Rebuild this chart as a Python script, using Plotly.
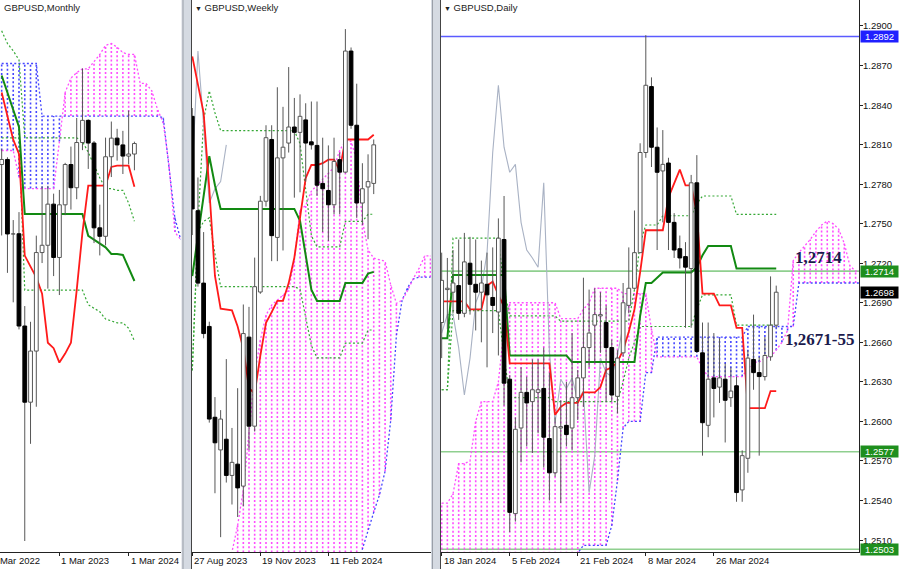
import plotly.graph_objects as go

# ======================= MONTHLY (May 2022 .. Apr 2024) =======================
m_open = [1.2574, 1.2604, 1.2164, 1.2165, 1.1620, 1.1170, 1.1472, 1.2054, 1.2097, 1.2340,
          1.2025, 1.2336, 1.2574, 1.2437, 1.2704, 1.2835, 1.2701, 1.2200, 1.2150, 1.2620,
          1.2730, 1.2690, 1.2624, 1.2636]
m_high = [1.2667, 1.2617, 1.2246, 1.2293, 1.1738, 1.1645, 1.2154, 1.2446, 1.2448, 1.2402,
          1.2424, 1.2584, 1.2680, 1.2849, 1.3142, 1.2841, 1.2713, 1.2337, 1.2733, 1.2828,
          1.2785, 1.2773, 1.2893, 1.2709]
m_low = [1.2155, 1.1934, 1.1760, 1.1600, 1.0350, 1.0924, 1.1143, 1.1992, 1.1841, 1.1915,
         1.1803, 1.2275, 1.2308, 1.2369, 1.2659, 1.2548, 1.2110, 1.2037, 1.2096, 1.2500,
         1.2597, 1.2518, 1.2575, 1.2540]
m_close = [1.2604, 1.2164, 1.2165, 1.1620, 1.1170, 1.1472, 1.2054, 1.2097, 1.2340, 1.2025,
           1.2336, 1.2574, 1.2437, 1.2704, 1.2835, 1.2701, 1.2200, 1.2150, 1.2620, 1.2730,
           1.2690, 1.2624, 1.2636, 1.2698]
m_tenkan = [1.3000, 1.2860, 1.2721, 1.2636, 1.2036, 1.1971, 1.1907, 1.1811, 1.1521, 1.1489,
            1.1404, 1.1457, 1.1521, 1.1832, 1.2175, 1.2449, 1.2449, 1.2449, 1.2449, 1.2560,
            1.2567, 1.2567, 1.2567, 1.2443]
m_kijun = [1.3100, 1.3000, 1.2900, 1.2796, 1.2282, 1.2282, 1.2282, 1.2282, 1.2282, 1.2282,
           1.2282, 1.2282, 1.2282, 1.2282, 1.2282, 1.2153, 1.2130, 1.2105, 1.2085, 1.2046,
           1.2046, 1.2040, 1.1960, 1.1886]
m_spanA = [1.3171, 1.3171, 1.3171, 1.3171, 1.3171, 1.3171, 1.3171, 1.2860, 1.2860, 1.2860,
           1.2860, 1.2860, 1.2860, 1.2860, 1.2860, 1.2860, 1.2860, 1.2860, 1.2860, 1.2860,
           1.2860, 1.2860, 1.2860, 1.2860, 1.2860, 1.2860, 1.2860, 1.2860, 1.2850, 1.2550,
           1.2261, 1.2132]
m_spanB = [1.2657, 1.2657, 1.2657, 1.2500, 1.2432, 1.2432, 1.2432, 1.2432, 1.2432, 1.2432,
           1.2710, 1.3000, 1.3085, 1.3117, 1.3139, 1.3139, 1.3182, 1.3224, 1.3278, 1.3289,
           1.3267, 1.3235, 1.3225, 1.3225, 1.3053, 1.3053, 1.3010, 1.2900, 1.2820, 1.2570,
           1.2175, 1.2132]
m_lvl_hi = [1.3364, 1.3289, 1.3246, 1.3192, 1.2732, 1.2732, 1.2732, 1.2732, 1.2732, 1.2732,
            1.2732, 1.2732, 1.2732, 1.2732, 1.2710, 1.2646, 1.2571, 1.2496, 1.2432, 1.2432,
            1.2421, 1.2421, 1.2346, 1.2239]
m_lvl_lo = [1.2732, 1.2732, 1.2732, 1.2732, 1.1832, 1.1832, 1.1832, 1.1832, 1.1832, 1.1832,
            1.1832, 1.1832, 1.1832, 1.1832, 1.1832, 1.1746, 1.1725, 1.1704, 1.1661, 1.1650,
            1.1639, 1.1639, 1.1607, 1.1532]
m_tick_idx = [-2, 10, 22]
m_tick_txt = ["1 Mar 2022", "1 Mar 2023", "1 Mar 2024"]

# ======================= WEEKLY (27 Aug 2023 .. Apr 2024) =======================
w_open = [1.2746, 1.2587, 1.2465, 1.2392, 1.2239, 1.2184, 1.2202, 1.2141, 1.2160, 1.2123,
          1.2374, 1.2224, 1.2450, 1.2603, 1.2707, 1.2542, 1.2676, 1.2701, 1.2728, 1.2719,
          1.2740, 1.2703, 1.2697, 1.2633, 1.2621, 1.2597, 1.2673, 1.2652, 1.2856, 1.2731,
          1.2600, 1.2627, 1.2633]
w_high = [1.2760, 1.2643, 1.2551, 1.2400, 1.2273, 1.2251, 1.2337, 1.2221, 1.2288, 1.2429,
          1.2425, 1.2508, 1.2612, 1.2731, 1.2731, 1.2795, 1.2762, 1.2829, 1.2777, 1.2783,
          1.2768, 1.2771, 1.2771, 1.2710, 1.2697, 1.2710, 1.2685, 1.2893, 1.2862, 1.2801,
          1.2667, 1.2682, 1.2707]
w_low = [1.2546, 1.2459, 1.2372, 1.2230, 1.2111, 1.2037, 1.2129, 1.2092, 1.2071, 1.2089,
         1.2184, 1.2215, 1.2447, 1.2594, 1.2502, 1.2502, 1.2520, 1.2685, 1.2609, 1.2618,
         1.2636, 1.2690, 1.2612, 1.2551, 1.2536, 1.2581, 1.2581, 1.2650, 1.2725, 1.2575,
         1.2563, 1.2539, 1.2615]
w_close = [1.2590, 1.2465, 1.2380, 1.2236, 1.2196, 1.2236, 1.2141, 1.2163, 1.2120, 1.2380,
           1.2224, 1.2459, 1.2603, 1.2710, 1.2545, 1.2676, 1.2694, 1.2728, 1.2719, 1.2746,
           1.2701, 1.2698, 1.2630, 1.2624, 1.2597, 1.2670, 1.2652, 1.2856, 1.2731, 1.2600,
           1.2624, 1.2636, 1.2698]
w_tenkan = [1.2847, 1.2798, 1.2752, 1.2624, 1.2477, 1.2422, 1.2421, 1.2419, 1.2392, 1.2355,
            1.2288, 1.2279, 1.2343, 1.2398, 1.2416, 1.2435, 1.2435, 1.2465, 1.2508, 1.2575,
            1.2642, 1.2664, 1.2664, 1.2667, 1.2673, 1.2673, 1.2655, 1.2707, 1.2707, 1.2707,
            1.2707, 1.2707, 1.2715]
w_kijun = [1.2477, 1.2545, 1.2612, 1.2679, 1.2630, 1.2590, 1.2590, 1.2590, 1.2590, 1.2590,
           1.2590, 1.2590, 1.2590, 1.2590, 1.2590, 1.2590, 1.2590, 1.2590, 1.2590, 1.2570,
           1.2515, 1.2454, 1.2435, 1.2435, 1.2435, 1.2435, 1.2435, 1.2465, 1.2465, 1.2465,
           1.2465, 1.2481, 1.2484]
w_spanA = [1.1990, 1.1990, 1.1990, 1.1990, 1.1990, 1.1990, 1.1990, 1.1990, 1.1990, 1.1990,
           1.1990, 1.1990, 1.1990, 1.1990, 1.1990, 1.1990, 1.1990, 1.1990, 1.1990, 1.1990,
           1.1990, 1.1990, 1.1990, 1.1990, 1.1990, 1.1990, 1.1990, 1.1990, 1.1990, 1.1990,
           1.2017, 1.2049, 1.2079, 1.2108, 1.2148, 1.2234, 1.2377, 1.2436, 1.2458, 1.2472,
           1.2475, 1.2475, 1.2475]
w_spanB = [1.1990, 1.1990, 1.1990, 1.1990, 1.1990, 1.1990, 1.1990, 1.2012, 1.2057, 1.2116,
           1.2217, 1.2310, 1.2369, 1.2411, 1.2428, 1.2436, 1.2445, 1.2453, 1.2504, 1.2588,
           1.2596, 1.2620, 1.2630, 1.2640, 1.2650, 1.2660, 1.2689, 1.2704, 1.2704, 1.2672,
           1.2571, 1.2521, 1.2507, 1.2505, 1.2502, 1.2462, 1.2431, 1.2436, 1.2453, 1.2473,
           1.2490, 1.2511, 1.2511]
w_lvl_hi = [1.2318, 1.2563, 1.2740, 1.2789, 1.2752, 1.2722, 1.2722, 1.2722, 1.2722, 1.2722,
            1.2722, 1.2722, 1.2722, 1.2722, 1.2722, 1.2722, 1.2722, 1.2722, 1.2722, 1.2700,
            1.2620, 1.2545, 1.2526, 1.2526, 1.2526, 1.2526, 1.2526, 1.2569, 1.2569, 1.2569,
            1.2569, 1.2581, 1.2581]
w_lvl_lo = [1.2318, 1.2551, 1.2569, 1.2575, 1.2514, 1.2459, 1.2459, 1.2459, 1.2459, 1.2459,
            1.2459, 1.2459, 1.2459, 1.2459, 1.2459, 1.2459, 1.2459, 1.2459, 1.2459, 1.2455,
            1.2410, 1.2360, 1.2339, 1.2339, 1.2339, 1.2339, 1.2339, 1.2364, 1.2364, 1.2364,
            1.2364, 1.2386, 1.2386]
w_tick_idx = [0, 12, 24]
w_tick_txt = ["27 Aug 2023", "19 Nov 2023", "11 Feb 2024"]

# ======================= DAILY (18 Jan 2024 .. Apr 2024) =======================
d_open = [1.2675, 1.2700, 1.2698, 1.2703, 1.2682, 1.2720, 1.2704, 1.2698, 1.2704, 1.2694,
          1.2683, 1.2738, 1.2632, 1.2530, 1.2595, 1.2622, 1.2615, 1.2622, 1.2625, 1.2587,
          1.2561, 1.2595, 1.2597, 1.2595, 1.2618, 1.2633, 1.2656, 1.2673, 1.2680, 1.2675,
          1.2656, 1.2619, 1.2652, 1.2688, 1.2701, 1.2728, 1.2804, 1.2854, 1.2808, 1.2790,
          1.2796, 1.2751, 1.2731, 1.2725, 1.2716, 1.2781, 1.2652, 1.2597, 1.2633, 1.2626,
          1.2632, 1.2618, 1.2627, 1.2548, 1.2572, 1.2647, 1.2637, 1.2634, 1.2649, 1.2673]
d_high = [1.2728, 1.2724, 1.2730, 1.2738, 1.2743, 1.2740, 1.2738, 1.2722, 1.2728, 1.2732,
          1.2754, 1.2771, 1.2635, 1.2603, 1.2641, 1.2634, 1.2647, 1.2647, 1.2656, 1.2637,
          1.2603, 1.2616, 1.2630, 1.2667, 1.2639, 1.2709, 1.2700, 1.2701, 1.2698, 1.2688,
          1.2662, 1.2654, 1.2705, 1.2732, 1.2760, 1.2811, 1.2893, 1.2861, 1.2823, 1.2821,
          1.2800, 1.2758, 1.2741, 1.2736, 1.2787, 1.2802, 1.2675, 1.2675, 1.2667, 1.2663,
          1.2644, 1.2641, 1.2634, 1.2578, 1.2654, 1.2681, 1.2649, 1.2664, 1.2710, 1.2703]
d_low = [1.2648, 1.2670, 1.2682, 1.2677, 1.2679, 1.2681, 1.2669, 1.2660, 1.2641, 1.2667,
         1.2650, 1.2612, 1.2516, 1.2524, 1.2569, 1.2581, 1.2576, 1.2591, 1.2565, 1.2540,
         1.2558, 1.2538, 1.2581, 1.2578, 1.2601, 1.2611, 1.2641, 1.2644, 1.2652, 1.2615,
         1.2615, 1.2606, 1.2649, 1.2682, 1.2700, 1.2728, 1.2800, 1.2793, 1.2730, 1.2751,
         1.2730, 1.2724, 1.2716, 1.2671, 1.2671, 1.2652, 1.2574, 1.2588, 1.2603, 1.2614,
         1.2584, 1.2611, 1.2539, 1.2539, 1.2561, 1.2624, 1.2574, 1.2631, 1.2646, 1.2671]
d_close = [1.2707, 1.2701, 1.2705, 1.2682, 1.2721, 1.2704, 1.2698, 1.2705, 1.2696, 1.2688,
           1.2739, 1.2629, 1.2531, 1.2594, 1.2622, 1.2614, 1.2624, 1.2624, 1.2588, 1.2561,
           1.2596, 1.2596, 1.2590, 1.2618, 1.2633, 1.2656, 1.2667, 1.2681, 1.2681, 1.2656,
           1.2620, 1.2648, 1.2690, 1.2701, 1.2728, 1.2804, 1.2855, 1.2808, 1.2789, 1.2795,
           1.2751, 1.2730, 1.2724, 1.2717, 1.2781, 1.2653, 1.2599, 1.2632, 1.2625, 1.2633,
           1.2616, 1.2623, 1.2546, 1.2574, 1.2648, 1.2637, 1.2634, 1.2650, 1.2673, 1.2698]
d_tenkan = [1.2691, 1.2691, 1.2691, 1.2691, 1.2691, 1.2685, 1.2685, 1.2685, 1.2703, 1.2706,
            1.2696, 1.2687, 1.2644, 1.2644, 1.2644, 1.2644, 1.2644, 1.2644, 1.2644, 1.2644,
            1.2605, 1.2611, 1.2614, 1.2614, 1.2614, 1.2622, 1.2622, 1.2622, 1.2626, 1.2639,
            1.2641, 1.2645, 1.2654, 1.2668, 1.2685, 1.2713, 1.2745, 1.2745, 1.2745, 1.2745,
            1.2770, 1.2781, 1.2791, 1.2779, 1.2779, 1.2758, 1.2697, 1.2697, 1.2697, 1.2688,
            1.2688, 1.2688, 1.2671, 1.2671, 1.2610, 1.2610, 1.2610, 1.2610, 1.2623, 1.2623]
d_kijun = [1.2663, 1.2663, 1.2711, 1.2711, 1.2711, 1.2711, 1.2711, 1.2711, 1.2711, 1.2711,
           1.2711, 1.2711, 1.2650, 1.2650, 1.2650, 1.2650, 1.2650, 1.2650, 1.2650, 1.2650,
           1.2650, 1.2650, 1.2650, 1.2645, 1.2645, 1.2645, 1.2645, 1.2645, 1.2645, 1.2645,
           1.2645, 1.2645, 1.2645, 1.2645, 1.2645, 1.2680, 1.2705, 1.2705, 1.2709, 1.2713,
           1.2713, 1.2713, 1.2713, 1.2713, 1.2713, 1.2717, 1.2726, 1.2733, 1.2733, 1.2733,
           1.2733, 1.2733, 1.2716, 1.2716, 1.2716, 1.2716, 1.2716, 1.2716, 1.2716, 1.2716]
d_spanA = [1.2490, 1.2490, 1.2490, 1.2490, 1.2490, 1.2490, 1.2490, 1.2490, 1.2490, 1.2490,
           1.2490, 1.2490, 1.2490, 1.2490, 1.2490, 1.2490, 1.2490, 1.2490, 1.2490, 1.2490,
           1.2490, 1.2490, 1.2490, 1.2490, 1.2500, 1.2506, 1.2506, 1.2506, 1.2506, 1.2506,
           1.2521, 1.2555, 1.2595, 1.2600, 1.2600, 1.2600, 1.2637, 1.2637, 1.2664, 1.2664,
           1.2664, 1.2664, 1.2664, 1.2664, 1.2664, 1.2664, 1.2664, 1.2664, 1.2664, 1.2664,
           1.2664, 1.2664, 1.2664, 1.2664, 1.2672, 1.2672, 1.2672, 1.2672, 1.2672, 1.2672,
           1.2672, 1.2672, 1.2672, 1.2705, 1.2705, 1.2705, 1.2705, 1.2705, 1.2705, 1.2705,
           1.2705, 1.2705, 1.2705, 1.2705, 1.2705]
d_spanB = [1.2538, 1.2538, 1.2545, 1.2568, 1.2568, 1.2570, 1.2600, 1.2615, 1.2615, 1.2615,
           1.2630, 1.2670, 1.2690, 1.2690, 1.2690, 1.2690, 1.2690, 1.2690, 1.2690, 1.2690,
           1.2690, 1.2678, 1.2678, 1.2678, 1.2678, 1.2685, 1.2690, 1.2701, 1.2701, 1.2701,
           1.2701, 1.2701, 1.2697, 1.2697, 1.2697, 1.2697, 1.2697, 1.2670, 1.2649, 1.2649,
           1.2649, 1.2649, 1.2649, 1.2649, 1.2649, 1.2649, 1.2640, 1.2634, 1.2634, 1.2634,
           1.2634, 1.2634, 1.2634, 1.2634, 1.2640, 1.2645, 1.2645, 1.2648, 1.2649, 1.2654,
           1.2660, 1.2669, 1.2722, 1.2728, 1.2733, 1.2738, 1.2744, 1.2749, 1.2752, 1.2750,
           1.2746, 1.2735, 1.2718, 1.2714, 1.2714]
d_lvl_hi = [1.2624, 1.2624, 1.2739, 1.2739, 1.2739, 1.2739, 1.2739, 1.2739, 1.2739, 1.2739,
            1.2739, 1.2700, 1.2680, 1.2680, 1.2680, 1.2680, 1.2680, 1.2680, 1.2680, 1.2680,
            1.2680, 1.2676, 1.2676, 1.2676, 1.2676, 1.2676, 1.2676, 1.2676, 1.2676, 1.2676,
            1.2676, 1.2676, 1.2676, 1.2676, 1.2700, 1.2735, 1.2749, 1.2749, 1.2749, 1.2756,
            1.2756, 1.2756, 1.2756, 1.2756, 1.2756, 1.2765, 1.2771, 1.2771, 1.2771, 1.2771,
            1.2771, 1.2771, 1.2757, 1.2757, 1.2757, 1.2757, 1.2757, 1.2757, 1.2757, 1.2757]
d_lvl_lo = [1.2624, 1.2624, 1.2684, 1.2684, 1.2684, 1.2684, 1.2684, 1.2684, 1.2684, 1.2684,
            1.2684, 1.2650, 1.2618, 1.2618, 1.2618, 1.2618, 1.2618, 1.2618, 1.2618, 1.2618,
            1.2615, 1.2615, 1.2615, 1.2615, 1.2615, 1.2615, 1.2615, 1.2615, 1.2615, 1.2615,
            1.2615, 1.2615, 1.2630, 1.2648, 1.2660, 1.2672, 1.2672, 1.2672, 1.2672, 1.2672,
            1.2672, 1.2672, 1.2672, 1.2672, 1.2672, 1.2685, 1.2696, 1.2696, 1.2696, 1.2696,
            1.2696, 1.2696, 1.2673, 1.2673, 1.2673, 1.2673, 1.2673, 1.2673, 1.2673, 1.2673]
d_tick_idx = [0, 12, 24, 36, 48]
d_tick_txt = ["18 Jan 2024", "5 Feb 2024", "21 Feb 2024", "8 Mar 2024", "26 Mar 2024"]
d_price_ticks = [1.2510, 1.2540, 1.2570, 1.2600, 1.2630, 1.2660, 1.2690,
                 1.2720, 1.2750, 1.2780, 1.2810, 1.2840, 1.2870, 1.2900]
d_level_vals = [1.2892, 1.2714, 1.2577, 1.2503]
d_level_kind = ["blue", "green", "green", "green"]
d_last_price = 1.2698
d_notes = ["1,2714", "1,2671-55"]

CHIKOU_SHIFT = 26

# ======================= styling =======================
FONT = "Liberation Sans"
W, H = 900, 569
Y0 = 1 - 552 / H
panels = {
    "m": dict(xa="x", ya="y", dom=[0, 181 / W], xr=[-0.29, 31.07], yr=[1.0285, 1.3546]),
    "w": dict(xa="x2", ya="y2", dom=[192 / W, 431 / W], xr=[-0.05, 42.1], yr=[1.2012, 1.2942]),
    "d": dict(xa="x3", ya="y3", dom=[441 / W, 859 / W], xr=[-0.12, 73.6], yr=[1.25009, 1.29197]),
}
C_RED = "#ff1a1a"
C_KIJUN = "#128a12"
C_GDOT = "#35a835"
C_BLUE = "#4646ff"
C_MAG = "#ff4cff"
C_CHIK = "#a9b2c4"
DOT = "2px,2.2px"


def line(x, y, p, color, width, dash=None):
    return go.Scatter(x=x, y=y, mode="lines", xaxis=p["xa"], yaxis=p["ya"],
                      line=dict(color=color, width=width, dash=dash),
                      hoverinfo="skip", showlegend=False)


def cloud(A, B, p):
    bx, by, mx, my = [], [], [], []
    for i, (a, b) in enumerate(zip(A, B)):
        if a >= b:
            bx += [i, i, None]; by += [b, a, None]
        else:
            mx += [i, i, None]; my += [a, b, None]
    idx = list(range(len(A)))
    return [line(bx, by, p, C_BLUE, 1.6, DOT), line(mx, my, p, C_MAG, 1.6, DOT),
            line(idx, A, p, C_BLUE, 1.3, DOT), line(idx, B, p, C_MAG, 1.3, DOT)]


def candles(o, h, l, c, p, hw=0.33):
    wx, wy, bx, by, ux, uy = [], [], [], [], [], []
    for i, (oo, hh, ll, cc) in enumerate(zip(o, h, l, c)):
        wx += [i, i, None]; wy += [ll, hh, None]
        top, bot = max(oo, cc), min(oo, cc)
        px = [i - hw, i + hw, i + hw, i - hw, i - hw, None]
        py = [bot, bot, top, top, bot, None]
        if cc < oo:
            bx += px; by += py
        else:
            ux += px; uy += py
    tr = [line(wx, wy, p, "#575757", 1)]
    tr.append(go.Scatter(x=bx, y=by, mode="lines", fill="toself", fillcolor="black",
                         line=dict(color="black", width=1), xaxis=p["xa"], yaxis=p["ya"],
                         hoverinfo="skip", showlegend=False))
    tr.append(go.Scatter(x=ux, y=uy, mode="lines", fill="toself", fillcolor="white",
                         line=dict(color="#575757", width=1), xaxis=p["xa"], yaxis=p["ya"],
                         hoverinfo="skip", showlegend=False))
    return tr


def chikou(close, p):
    xs = [i - CHIKOU_SHIFT for i in range(CHIKOU_SHIFT, len(close))]
    return line(xs, close[CHIKOU_SHIFT:], p, C_CHIK, 1.1)


def panel_traces(p, o, h, l, c, tk, kj, A, B, g1, g2, with_chikou=True):
    n = list(range(len(o)))
    tr = cloud(A, B, p)
    tr += [line(n, g1, p, C_GDOT, 1.2, DOT), line(n, g2, p, C_GDOT, 1.2, DOT)]
    if with_chikou:
        tr.append(chikou(c, p))
    tr += [line(n, kj, p, C_KIJUN, 2), line(n, tk, p, C_RED, 1.8)]
    tr += candles(o, h, l, c, p)
    return tr


fig = go.Figure()
for t in panel_traces(panels["m"], m_open, m_high, m_low, m_close, m_tenkan, m_kijun,
                      m_spanA, m_spanB, m_lvl_hi, m_lvl_lo, with_chikou=False):
    fig.add_trace(t)
for t in panel_traces(panels["w"], w_open, w_high, w_low, w_close, w_tenkan, w_kijun,
                      w_spanA, w_spanB, w_lvl_hi, w_lvl_lo):
    fig.add_trace(t)
for t in panel_traces(panels["d"], d_open, d_high, d_low, d_close, d_tenkan, d_kijun,
                      d_spanA, d_spanB, d_lvl_hi, d_lvl_lo):
    fig.add_trace(t)


def to_paper(p, v):
    return p["dom"][0] + (v - p["xr"][0]) / (p["xr"][1] - p["xr"][0]) * (p["dom"][1] - p["dom"][0])


layout = dict(width=W, height=H, margin=dict(l=0, r=0, t=0, b=0),
              paper_bgcolor="white", plot_bgcolor="white", showlegend=False,
              hovermode=False, font=dict(family=FONT, size=10, color="#111"))
ticks_of = {"m": m_tick_idx, "w": w_tick_idx, "d": d_tick_idx}
for key, p in panels.items():
    xname = "xaxis" + p["xa"][1:]
    yname = "yaxis" + p["ya"][1:]
    layout[xname] = dict(domain=p["dom"], range=p["xr"], anchor=p["ya"], showgrid=False,
                         zeroline=False, showline=True, linecolor="#222", linewidth=1,
                         ticks="outside", ticklen=3, tickcolor="#222",
                         tickvals=ticks_of[key], showticklabels=False, fixedrange=True)
    layout[yname] = dict(domain=[Y0, 1], range=p["yr"], anchor=p["xa"], showgrid=False,
                         zeroline=False, visible=False, fixedrange=True)
layout["yaxis3"].update(visible=True, side="right", showline=True, linecolor="#222",
                        linewidth=1, ticks="outside", ticklen=3, tickcolor="#222",
                        tickvals=d_price_ticks, showticklabels=False)
fig.update_layout(**layout)

# price scale labels (daily)
for v in d_price_ticks:
    fig.add_annotation(xref="paper", x=862 / W, xanchor="left", yref="y3", y=v,
                       text=f"{v:.4f}", showarrow=False, borderpad=0,
                       font=dict(family=FONT, size=9.5, color="#111"))

# level lines on the daily chart
LVL_COL = {"blue": ("#5b5bff", "#1f1fff"), "green": ("#8fcf8f", "#1e8f1e")}
for v, k in zip(d_level_vals, d_level_kind):
    fig.add_shape(type="line", xref="x3 domain", x0=0, x1=1, yref="y3", y0=v, y1=v,
                  line=dict(color=LVL_COL[k][0], width=1.6), layer="below")
    fig.add_annotation(xref="paper", x=860 / W, xanchor="left", yref="y3", y=v,
                       text=f"{v:.4f}", showarrow=False, bgcolor=LVL_COL[k][1],
                       font=dict(family=FONT, size=9.5, color="white"), width=37,
                       height=11, borderpad=0)
fig.add_annotation(xref="paper", x=860 / W, xanchor="left", yref="y3", y=d_last_price,
                   text=f"{d_last_price:.4f}", showarrow=False, bgcolor="black",
                   font=dict(family=FONT, size=9.5, color="white"), width=37, height=11,
                   borderpad=0)

# text notes on the daily chart
fig.add_annotation(xref="x3", x=66.4, yref="y3", y=1.27240, text=f"<b>{d_notes[0]}</b>",
                   showarrow=False, font=dict(family="Liberation Serif", size=17, color="#1b1b4d"))
fig.add_annotation(xref="x3", x=66.7, yref="y3", y=1.26618, text=f"<b>{d_notes[1]}</b>",
                   showarrow=False, font=dict(family="Liberation Serif", size=17, color="#1b1b4d"))

# date labels under each panel
for key, idxs, txts in (("m", m_tick_idx, m_tick_txt), ("w", w_tick_idx, w_tick_txt),
                        ("d", d_tick_idx, d_tick_txt)):
    for v, t in zip(idxs, txts):
        fig.add_annotation(xref="paper", x=to_paper(panels[key], v), xanchor="left",
                           yref="paper", y=Y0, yanchor="top", yshift=-1, text=t,
                           showarrow=False, font=dict(family=FONT, size=9.5, color="#111"))

# window titles
tri = "<span style='font-size:7px'>\u25BC</span> "
for xpx, t in ((2, "GBPUSD,Monthly"), (193, tri + "GBPUSD,Weekly"), (442, tri + "GBPUSD,Daily")):
    fig.add_annotation(xref="paper", x=xpx / W, xanchor="left", yref="paper", y=1,
                       yanchor="top", text=t, showarrow=False,
                       font=dict(family=FONT, size=9.5, color="#222"))

# window separators
for x0, x1 in ((181.5, 191.5), (431, 440.5)):
    fig.add_shape(type="rect", xref="paper", yref="paper", x0=x0 / W, x1=x1 / W, y0=0, y1=1,
                  fillcolor="#d5dae2", line=dict(width=0), layer="above")
    fig.add_shape(type="line", xref="paper", yref="paper", x0=(x0 + 1.5) / W, x1=(x0 + 1.5) / W,
                  y0=0, y1=1, line=dict(color="#9a9fa8", width=1), layer="above")
    fig.add_shape(type="line", xref="paper", yref="paper", x0=x1 / W, x1=x1 / W,
                  y0=0, y1=1, line=dict(color="#444", width=1), layer="above")

fig.write_html("out.html", config={"displayModeBar": False},
               post_script="document.body.style.margin='0';document.body.style.overflow='hidden';")
